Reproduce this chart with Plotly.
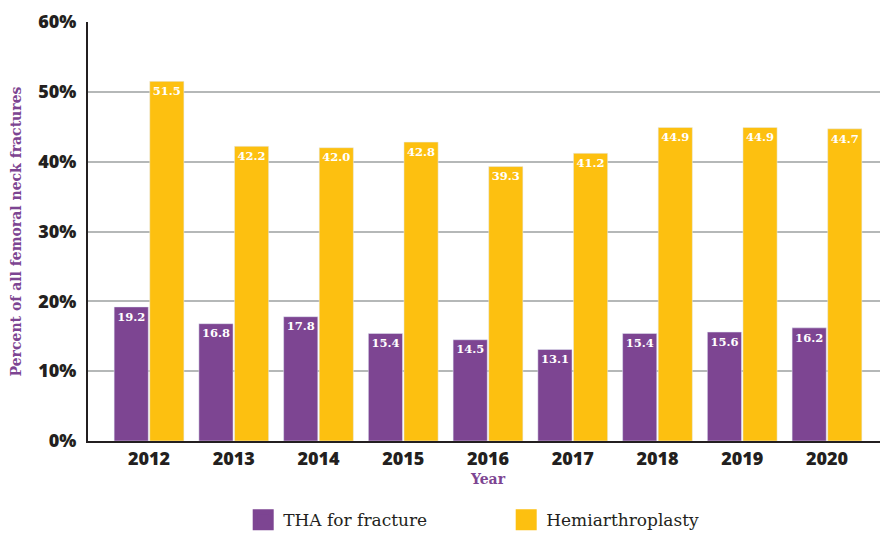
import plotly.graph_objects as go

years = ["2012", "2013", "2014", "2015", "2016", "2017", "2018", "2019", "2020"]
tha = [19.2, 16.8, 17.8, 15.4, 14.5, 13.1, 15.4, 15.6, 16.2]
hemi = [51.5, 42.2, 42.0, 42.8, 39.3, 41.2, 44.9, 44.9, 44.7]
y_ticks = [0, 10, 20, 30, 40, 50, 60]
y_tick_labels = ["0%", "10%", "20%", "30%", "40%", "50%", "60%"]

PURPLE = "#7D4592"
YELLOW = "#FDC010"
SERIF = "DejaVu Serif, serif"
SANS = "Open Sans, sans-serif"

series = [("THA for fracture", tha, PURPLE), ("Hemiarthroplasty", hemi, YELLOW)]

fig = go.Figure()
for name, vals, col in series:
    fig.add_trace(go.Bar(
        x=years, y=vals, name=name, marker_color=col, showlegend=False,
        text=[f"{v:.1f}" for v in vals], textposition="inside", insidetextanchor="end",
        textfont=dict(family=SERIF, size=13, color="white", weight="bold"),
        textangle=0, cliponaxis=False,
    ))
# legend-only entries with larger square swatches
for name, vals, col in series:
    fig.add_trace(go.Scatter(
        x=[None], y=[None], mode="markers", name=name,
        marker=dict(symbol="square", size=16, color=col, line=dict(color=col, width=5)),
    ))

fig.update_layout(
    width=880, height=525,
    margin=dict(l=80, r=0, t=14, b=92, autoexpand=False),
    paper_bgcolor="white", plot_bgcolor="white",
    barmode="group", bargap=0.16, bargroupgap=0.04,
    showlegend=True,
    legend=dict(orientation="h", x=0.194, xanchor="left", y=-0.189, yanchor="middle",
                font=dict(family=SERIF, size=17, color="#231F20"),
                itemsizing="trace", itemwidth=30, entrywidth=218, traceorder="normal"),
    xaxis=dict(
        type="category", range=[-0.72, 8.72],
        tickfont=dict(family=SANS, size=18, color="#231F20", weight=800),
        showline=True, linecolor="#231F20", linewidth=2,
        ticks="", showgrid=False, automargin=False,
        title=dict(text="Year", font=dict(family=SERIF, size=14, color=PURPLE, weight="bold"), standoff=6),
    ),
    yaxis=dict(
        range=[0, 60], tickvals=y_ticks, ticktext=y_tick_labels,
        tickfont=dict(family=SANS, size=18, color="#231F20", weight=800),
        showline=True, linecolor="#231F20", linewidth=2,
        showgrid=True, gridcolor="#B5B8B8", gridwidth=1.5,
        zeroline=False, ticks="", ticklabelstandoff=6, automargin=False,
        title=dict(text="Percent of all femoral neck fractures",
                   font=dict(family=SERIF, size=14, color=PURPLE, weight="bold"), standoff=14),
    ),
)

fig.write_html("out.html")
